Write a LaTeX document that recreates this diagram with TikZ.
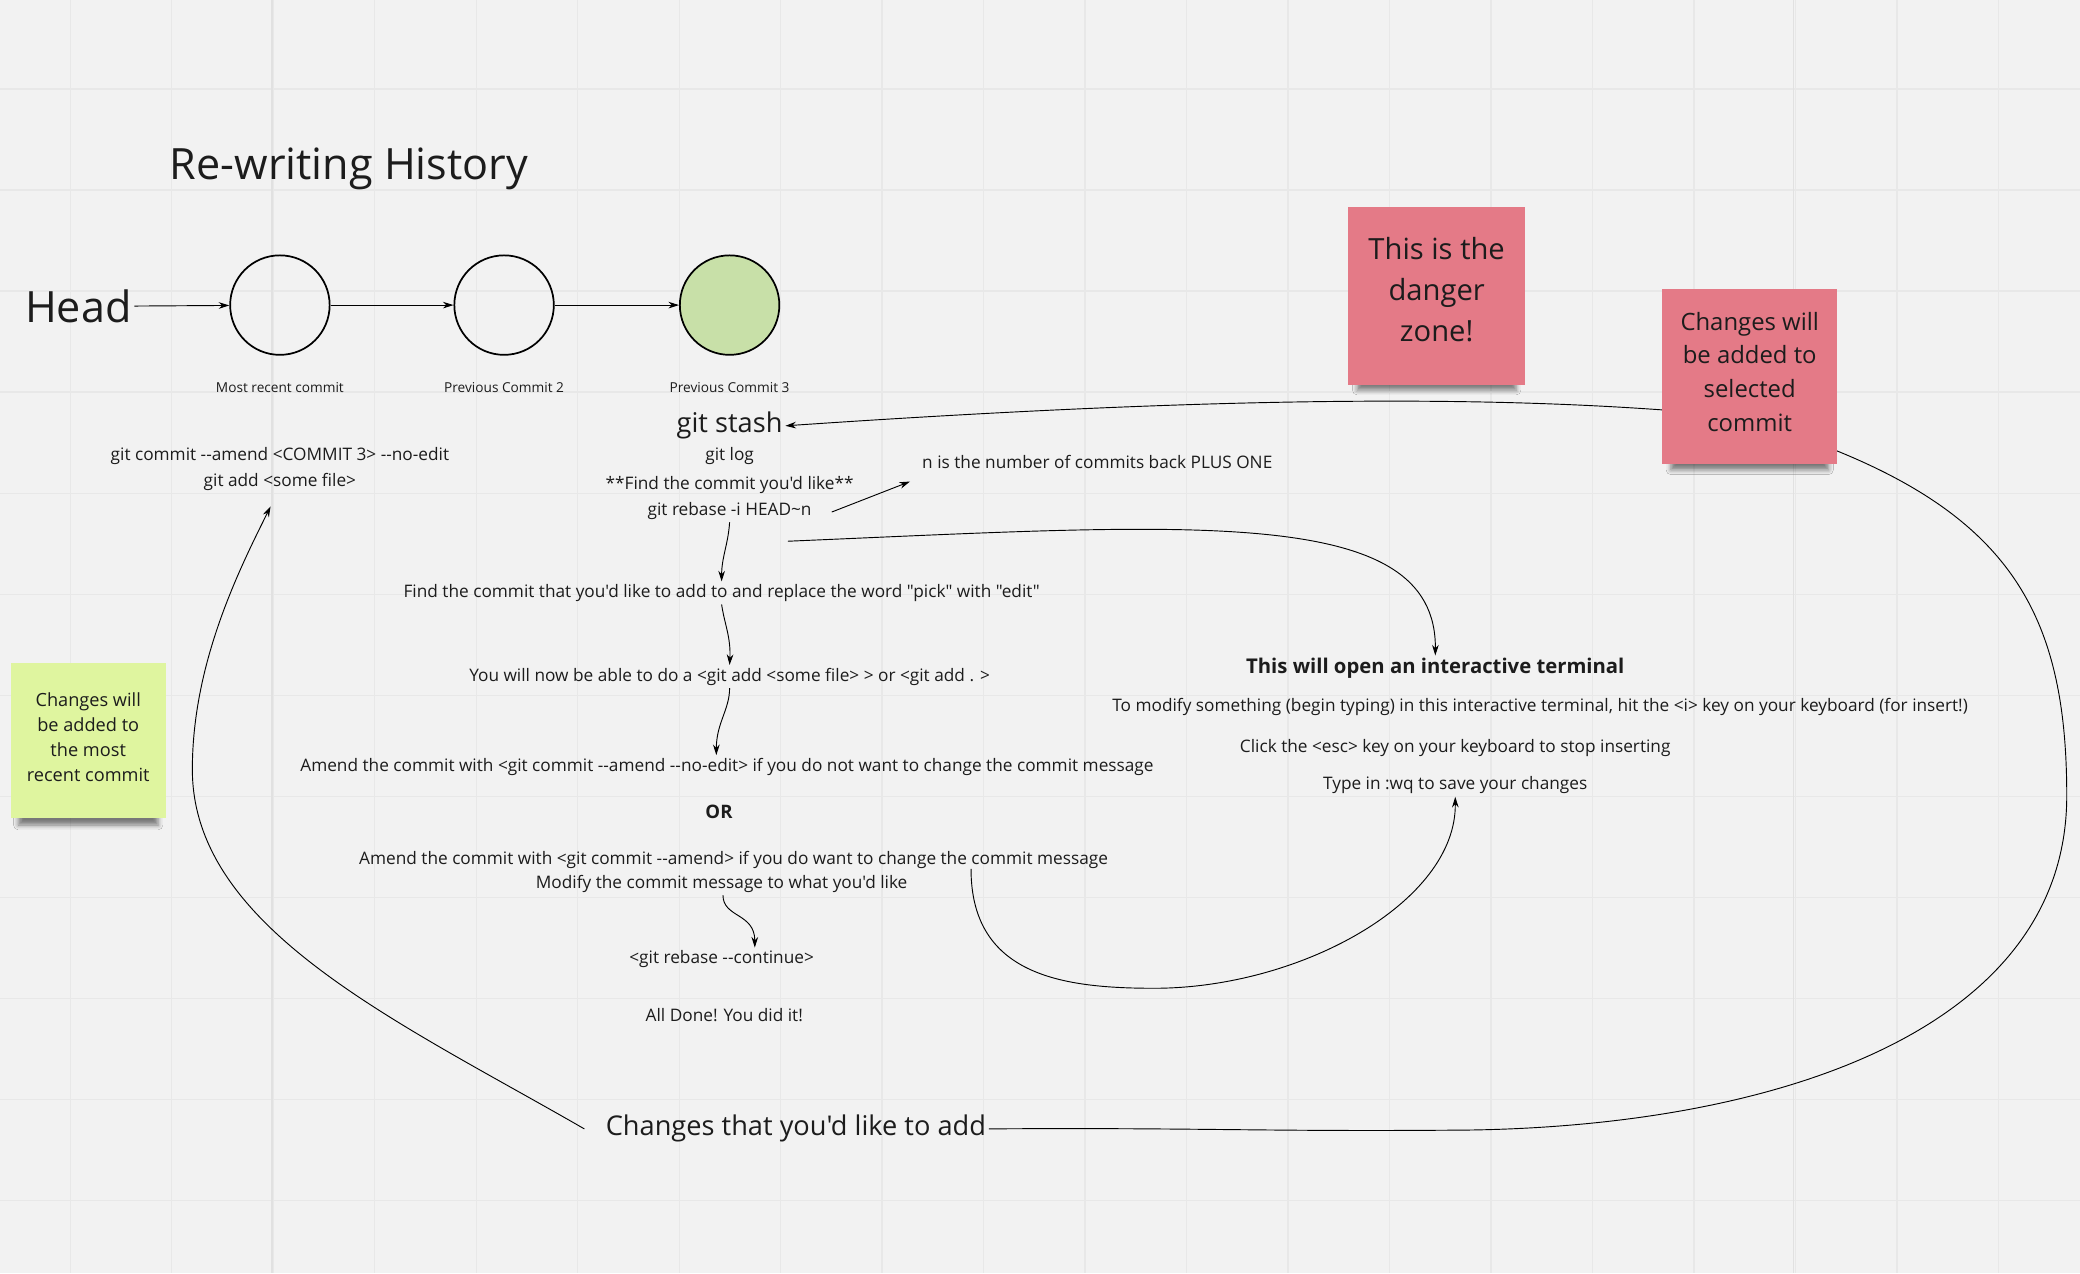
\documentclass[tikz,border=0pt]{standalone}
\usepackage{fontspec}
\setmainfont{Open Sans}[Ligatures=TeXOff]
\usepackage{tikz}
\usetikzlibrary{%
  positioning
 ,arrows.meta
 ,calc
 ,shadows.blur
}
\definecolor{board}{HTML}{F2F2F2}
\definecolor{gridln}{HTML}{E8E8E8}
\definecolor{gridmaj}{HTML}{E1E1E1}
\definecolor{ink}{HTML}{1C1C1C}
\definecolor{notered}{HTML}{E47A87}
\definecolor{notegreen}{HTML}{DFF59F}
\definecolor{commitgreen}{HTML}{C8E0A8}
\tikzstyle{txt}=[font=\fontsize{13}{15}\selectfont,text=ink,inner sep=2pt,yshift=-2pt]
\tikzstyle{small}=[font=\fontsize{10.3}{12}\selectfont,text=ink,inner sep=2pt]
\tikzstyle{big}=[font=\fontsize{20.5}{24}\selectfont,text=ink,inner sep=2pt,yshift=-2pt]
\tikzstyle{bold}=[font=\fontsize{15.3}{18}\selectfont\bfseries,text=ink,inner sep=2pt,yshift=-2pt]
\tikzstyle{commit}=[circle,draw=black,line width=1.3pt,minimum size=75pt,inner sep=0pt]
\tikzstyle{sticky}=[rectangle,inner sep=4pt,align=center,text=ink,
  blur shadow={shadow xshift=0pt,shadow yshift=-12pt,shadow scale=0.9,shadow opacity=50,shadow blur radius=4pt}]
\tikzstyle{flow}=[-{Stealth[length=8pt,width=5pt]},line width=0.7pt,draw=black]

\begin{document}
\begin{tikzpicture}[x=1pt,y=-1pt]
  \fill[board] (0,0) rectangle (1568,960);
  \useasboundingbox (0,0) rectangle (1568,960);
% board grid
  \foreach \gx in {0,...,20}
    \draw[gridln,line width=1pt] ({53+76.5*\gx},0) -- ({53+76.5*\gx},960);
  \foreach \gy in {0,...,11}
    \draw[gridln,line width=1pt] (0,{67+76.2*\gy}) -- (1568,{67+76.2*\gy});
  \draw[gridmaj,line width=1pt] (205,0) -- (205,960) (1352,0) -- (1352,960);
% history
  \node[font=\fontsize{32.5}{38}\selectfont,text=ink] (title) at (263,127) {Re-writing History};
  \node[font=\fontsize{32.5}{38}\selectfont,text=ink,inner sep=2pt] (head) at (59,231) {Head};
  \node[commit]                   (c1) at (211,230) {};
  \node[commit]                   (c2) at (380,230) {};
  \node[commit,fill=commitgreen]  (c3) at (550,230) {};
  \node[small] (c1lbl) at (211,292) {Most recent commit};
  \node[small] (c2lbl) at (380,292) {Previous Commit 2};
  \node[small] (c3lbl) at (550,292) {Previous Commit 3};
  \path[flow]
  (head) edge (c1)
  (c1)   edge (c2)
  (c2)   edge (c3);
% left column
  \node[txt] (amendleft) at (211,342) {git commit --amend <COMMIT 3> --no-edit};
  \node[txt] (addleft)   at (211,361) {git add <some file>};
% middle column
  \node[big] (stash)    at (550,319) {git stash};
  \node[txt] (log)      at (550,342) {git log};
  \node[txt] (find)     at (550,364) {**Find the commit you'd like**};
  \node[txt] (rebase)   at (550,383) {git rebase -i HEAD\textasciitilde n};
  \node[txt,anchor=west] (nplus) at (693,346) {n is the number of commits back PLUS ONE};
  \node[txt] (edit)     at (544,445) {Find the commit that you'd like to add to and replace the word "pick" with "edit"};
  \node[txt] (able)     at (550,508) {You will now be able to do a <git add <some file> > or <git add . >};
  \node[txt] (amendno)  at (548,576) {Amend the commit with <git commit --amend --no-edit> if you do not want to change the commit message};
  \node[bold,font=\fontsize{14}{17}\selectfont\bfseries] (or) at (542,610) {OR};
  \node[txt] (amendyes) at (553,646) {Amend the commit with <git commit --amend> if you do want to change the commit message};
  \node[txt] (modify)   at (544,664) {Modify the commit message to what you'd like};
  \node[txt] (cont)     at (544,721) {<git rebase --continue>};
  \node[txt] (done)     at (546,763) {All Done! You did it!};
  \node[big] (changes)  at (600,849) {Changes that you'd like to add};
% terminal
  \node[bold] (terminal) at (1082,502) {This will open an interactive terminal};
  \node[txt]  (insert)   at (1161,531) {To modify something (begin typing) in this interactive terminal, hit the <i> key on your keyboard (for insert!)};
  \node[txt]  (esc)      at (1097,562) {Click the <esc> key on your keyboard to stop inserting};
  \node[txt]  (wq)       at (1097,590) {Type in :wq to save your changes};
  \coordinate (tfrom)  at (594,408);
  \coordinate (wqfrom) at (732,655);
% steps
  \draw[flow] (rebase.south) .. controls (549,410) and (544,420) .. (edit.north);
  \draw[flow] (edit.south) .. controls (546,470) and (551,480) .. (able.north);
  \draw[flow] (able.south) .. controls (550,535) and (540,545) .. ([xshift=-8pt]amendno.north);
  \draw[flow] ([xshift=1pt]modify.south) .. controls (545,692) and (569,688) .. ([xshift=25pt]cont.north);
  \draw[flow] ([xshift=13pt,yshift=-1pt]rebase.east) -- ([xshift=-7pt,yshift=-15pt]nplus.west);
  \draw[flow] (tfrom) .. controls (900,395) and (1083,380) .. (terminal.north);
  \draw[flow] (wqfrom) .. controls (732,735) and (800,745) .. (870,745)
              .. controls (980,745) and (1098,680) .. (wq.south);
% changes loops
  \draw[flow] (changes.east) .. controls (900,850) and (950,853) .. (1090,852)
              .. controls (1330,852) and (1558,780) .. (1558,600)
              .. controls (1558,470) and (1520,395) .. (1385,340)
              .. controls (1330,315) and (1290,312) .. (1253,309)
              .. controls (1100,298) and (900,300) .. (stash.east);
  \draw[flow] ([xshift=-14pt]changes.west) .. controls (300,770) and (145,700) .. (145,580)
              .. controls (145,500) and (180,430) .. ([xshift=-7pt,yshift=-10pt]addleft.south);
% sticky notes
  \node[sticky,fill=notered,minimum width=133pt,minimum height=134pt,
        font=\fontsize{22}{31}\selectfont] (danger) at (1083,223) {This is the\\danger\\zone!\\[-21pt]};
  \node[sticky,fill=notered,minimum width=132pt,minimum height=132pt,
        font=\fontsize{18}{25.5}\selectfont] (selected) at (1319,284) {Changes will\\be added to\\selected\\commit\\[-18pt]};
  \node[sticky,fill=notegreen,minimum width=117pt,minimum height=117pt,
        font=\fontsize{13.7}{18.7}\selectfont] (recent) at (66.5,558.5) {Changes will\\be added to\\the most\\recent commit\\[-13pt]};
\end{tikzpicture}
\end{document}
